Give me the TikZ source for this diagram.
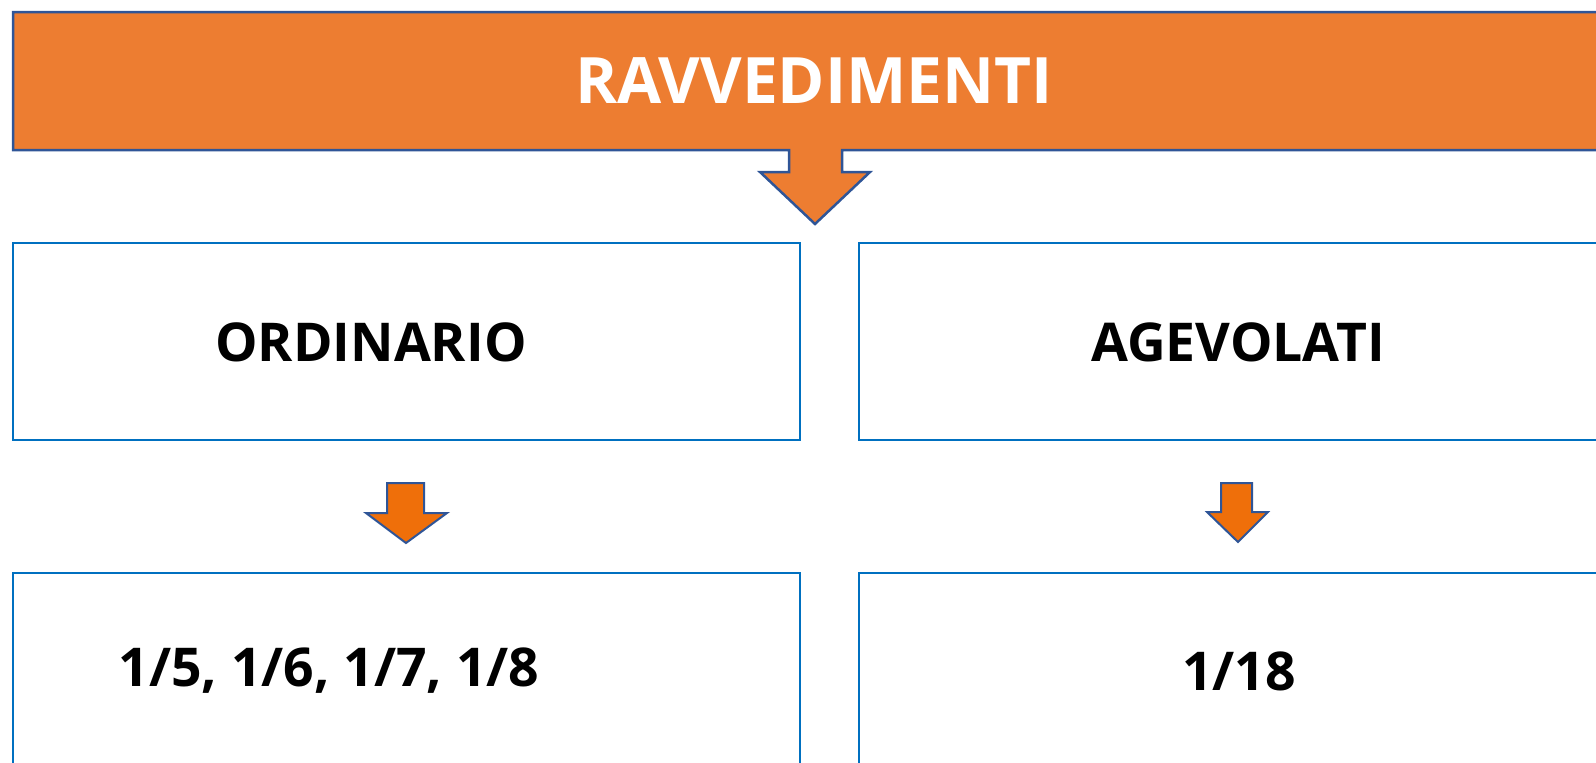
\documentclass[tikz,border=0pt]{standalone}
\usepackage{fontspec}
\setmainfont{Open Sans}
\definecolor{bannerorange}{HTML}{ED7D31}
\definecolor{arroworange}{HTML}{EF6F0A}
\definecolor{edgeblue}{HTML}{2F5597}
\definecolor{boxblue}{HTML}{0070C0}
\tikzset{
  banner/.style={draw=edgeblue,line width=2.5pt,fill=bannerorange,line join=miter},
  blockarrow/.style={draw=edgeblue,line width=2pt,fill=arroworange,line join=miter},
  box/.style={draw=boxblue,line width=2.2pt,fill=white,inner sep=0pt,
    minimum width=787pt,minimum height=197pt},
  lowbox/.style={box,minimum height=240pt},
  label/.style={font=\bfseries\fontsize{53.5}{64}\selectfont,inner sep=0pt}
}
\begin{document}
\begin{tikzpicture}[x=1pt,y=-1pt]
  \useasboundingbox (0,0) rectangle (1596,763);
  \draw[banner] (13,12) -- (1660,12) -- (1660,150) -- (842,150) -- (842,172)
    -- (870,172) -- (815,224) -- (760,172) -- (789,172) -- (789,150)
    -- (13,150) -- cycle;
  \node[label,text=white,font=\bfseries\fontsize{64}{76}\selectfont] (title) at (814,81) {RAVVEDIMENTI};
  \node[box] (ordbox) at (406.5,341.5) {};
  \node[box] (agebox) at (1252.5,341.5) {};
  \node[lowbox] (ordrate) at (406.5,693) {};
  \node[lowbox] (agerate) at (1252.5,693) {};
  \node[label] (ord) at (371,342) {ORDINARIO};
  \node[label] (age) at (1238,342) {AGEVOLATI};
  \node[label] (ordfrac) at (329,671) {1/5, 1/6, 1/7, 1/8};
  \node[label] (agefrac) at (1239,671) {1/18};
  \draw[blockarrow] (387,483) -- (424,483) -- (424,513) -- (447,513) -- (406,543)
    -- (366,513) -- (387,513) -- cycle;
  \draw[blockarrow] (1221,483) -- (1252,483) -- (1252,512) -- (1268,512) -- (1238,542)
    -- (1207,512) -- (1221,512) -- cycle;
\end{tikzpicture}
\end{document}
